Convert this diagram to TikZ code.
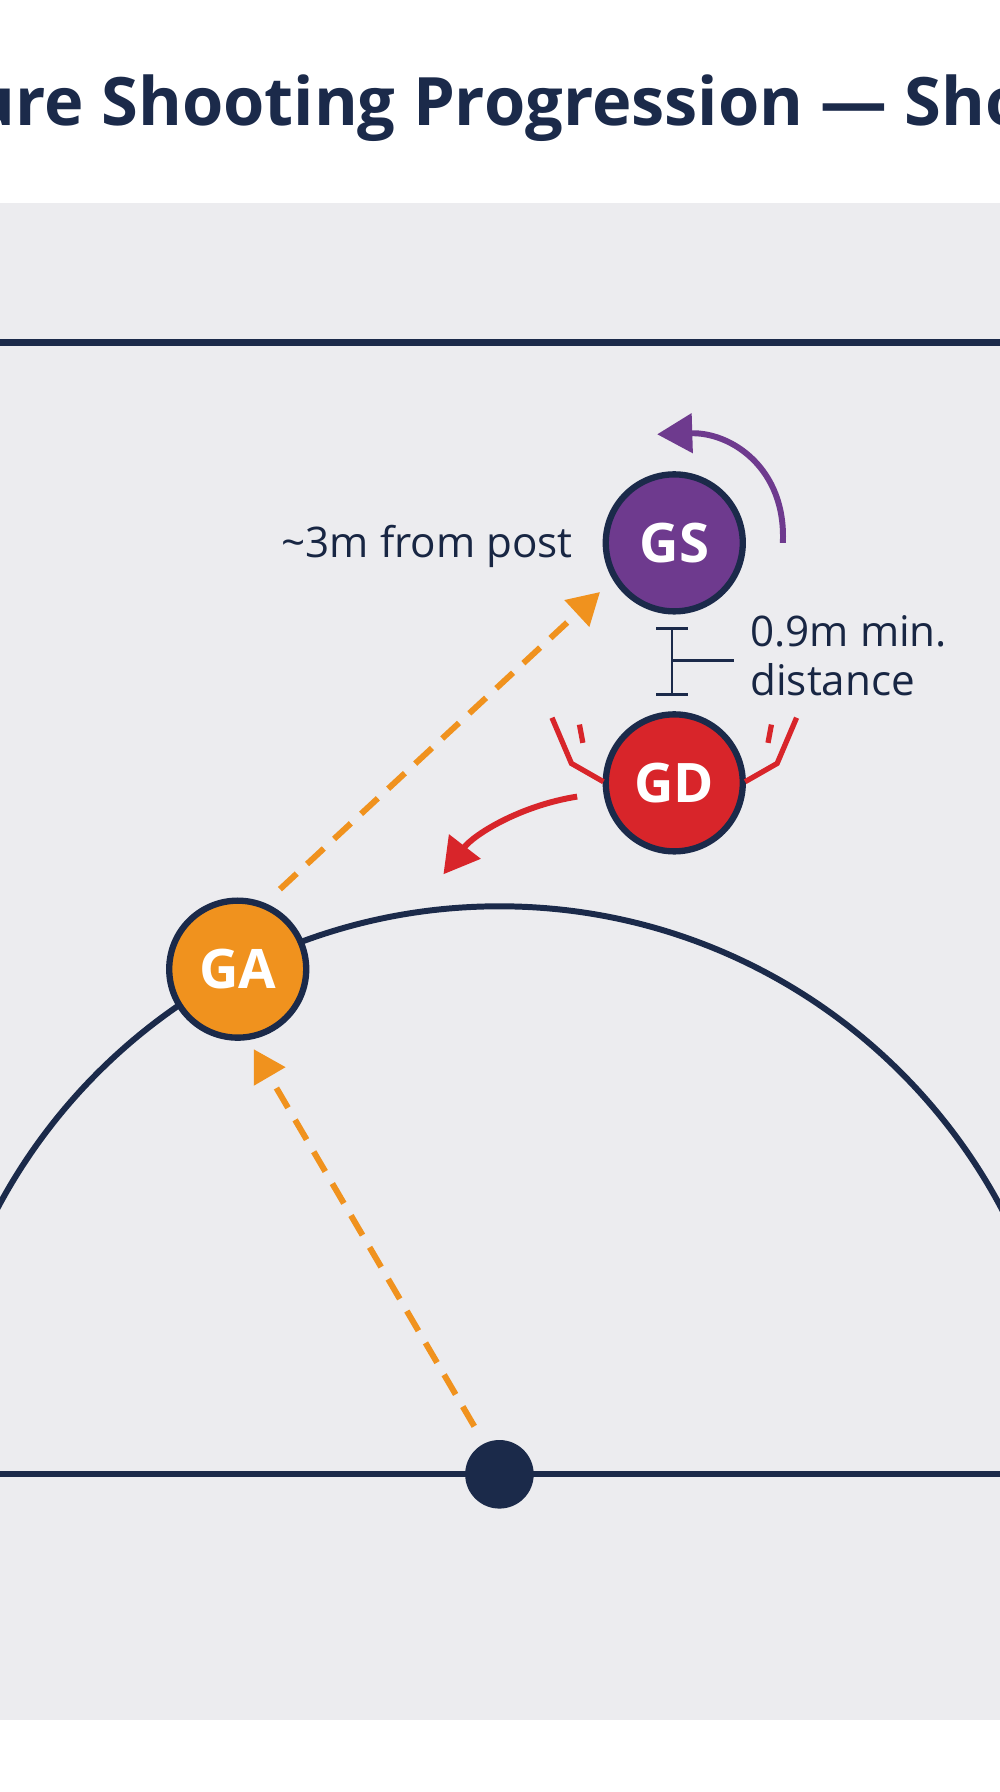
\documentclass[tikz,border=0pt]{standalone}
\usepackage{fontspec}
\setmainfont{Open Sans}
\usetikzlibrary{arrows.meta, positioning}
\definecolor{navy}{HTML}{1B2A4A}
\definecolor{courtbg}{HTML}{ECECEF}
\definecolor{gspurple}{HTML}{6E3A8E}
\definecolor{gdred}{HTML}{D8252A}
\definecolor{gaorange}{HTML}{F0921E}
\tikzset{
  player/.style={circle, draw=navy, line width=1.8pt, minimum size=13.7mm, inner sep=0pt,
    text=white, font=\bfseries\fontsize{15.5}{17}\selectfont},
  courtline/.style={draw=navy, line width=1.7pt},
  passline/.style={draw=gaorange, line width=1.7pt, dash pattern=on 6.5pt off 4pt, -{Triangle[length=9pt,width=10pt]}},
  note/.style={text=navy!90!black, font=\fontsize{12}{14}\selectfont}
}
\begin{document}
\begin{tikzpicture}[x=0.01143cm, y=-0.01143cm]
  \useasboundingbox (0,0) rectangle (875,1568);
  \fill[white] (0,0) rectangle (875,1568);
  \fill[courtbg] (0,178) rectangle (875,1505);
  \begin{scope}
    \clip (0,0) rectangle (875,1568);
    % title, cut at both sides
    \node[text=navy, font=\bfseries\fontsize{19}{22}\selectfont] (title) at (437,95) {ure Shooting Progression — Sho};
    % court lines and circle
    \draw[courtline, line width=2pt] (-10,300) -- (885,300);
    \draw[courtline] (-10,1290) -- (885,1290);
    \clip (-10,178) rectangle (885,1290);
    \draw[courtline] (-60,1290) arc[start angle=180, end angle=360, radius=497];
  \end{scope}
  \fill[navy] (437,1290) circle (30);
  \coordinate (post) at (415,1248);
  % players
  \node[player, fill=gspurple] (gs) at (590,475) {GS};
  \node[player, fill=gdred] (gd) at (590,685) {GD};
  \node[player, fill=gaorange] (ga) at (208,848) {GA};
  % labels
  \node[note, anchor=east] (dist) at (512,478) {\textasciitilde3m from post};
  \node[note, anchor=west, align=left, inner sep=0pt] (gap) at (656,574) {0.9m min.\\distance};
  % spacing marker
  \draw[navy, line width=0.8pt] (588,550) -- (588,608);
  \draw[navy, line width=0.8pt] (574,550) -- (602,550);
  \draw[navy, line width=0.8pt] (574,608) -- (602,608);
  \draw[navy, line width=0.8pt] (588,578) -- (642,578);
  % GS turn
  \draw[gspurple, line width=1.7pt, -{Triangle[length=10pt,width=11pt]}] (685,475) .. controls (688,410) and (640,378) .. (575,380);
  % GD arms
  \draw[gdred, line width=1.5pt] (528,684) -- (500,668) -- (483,628);
  \draw[gdred, line width=1.5pt] (507,634) -- (510,650);
  \draw[gdred, line width=1.5pt] (652,684) -- (680,668) -- (697,628);
  \draw[gdred, line width=1.5pt] (675,634) -- (672,650);
  % GD drop
  \draw[gdred, line width=1.7pt, -{Triangle[length=10pt,width=11pt]}] (505,697) .. controls (455,705) and (415,730) .. (388,765);
  % passes
  \draw[passline] (245,778) -- (525,518);
  \draw[passline] (post) -- (222,918);
\end{tikzpicture}
\end{document}
